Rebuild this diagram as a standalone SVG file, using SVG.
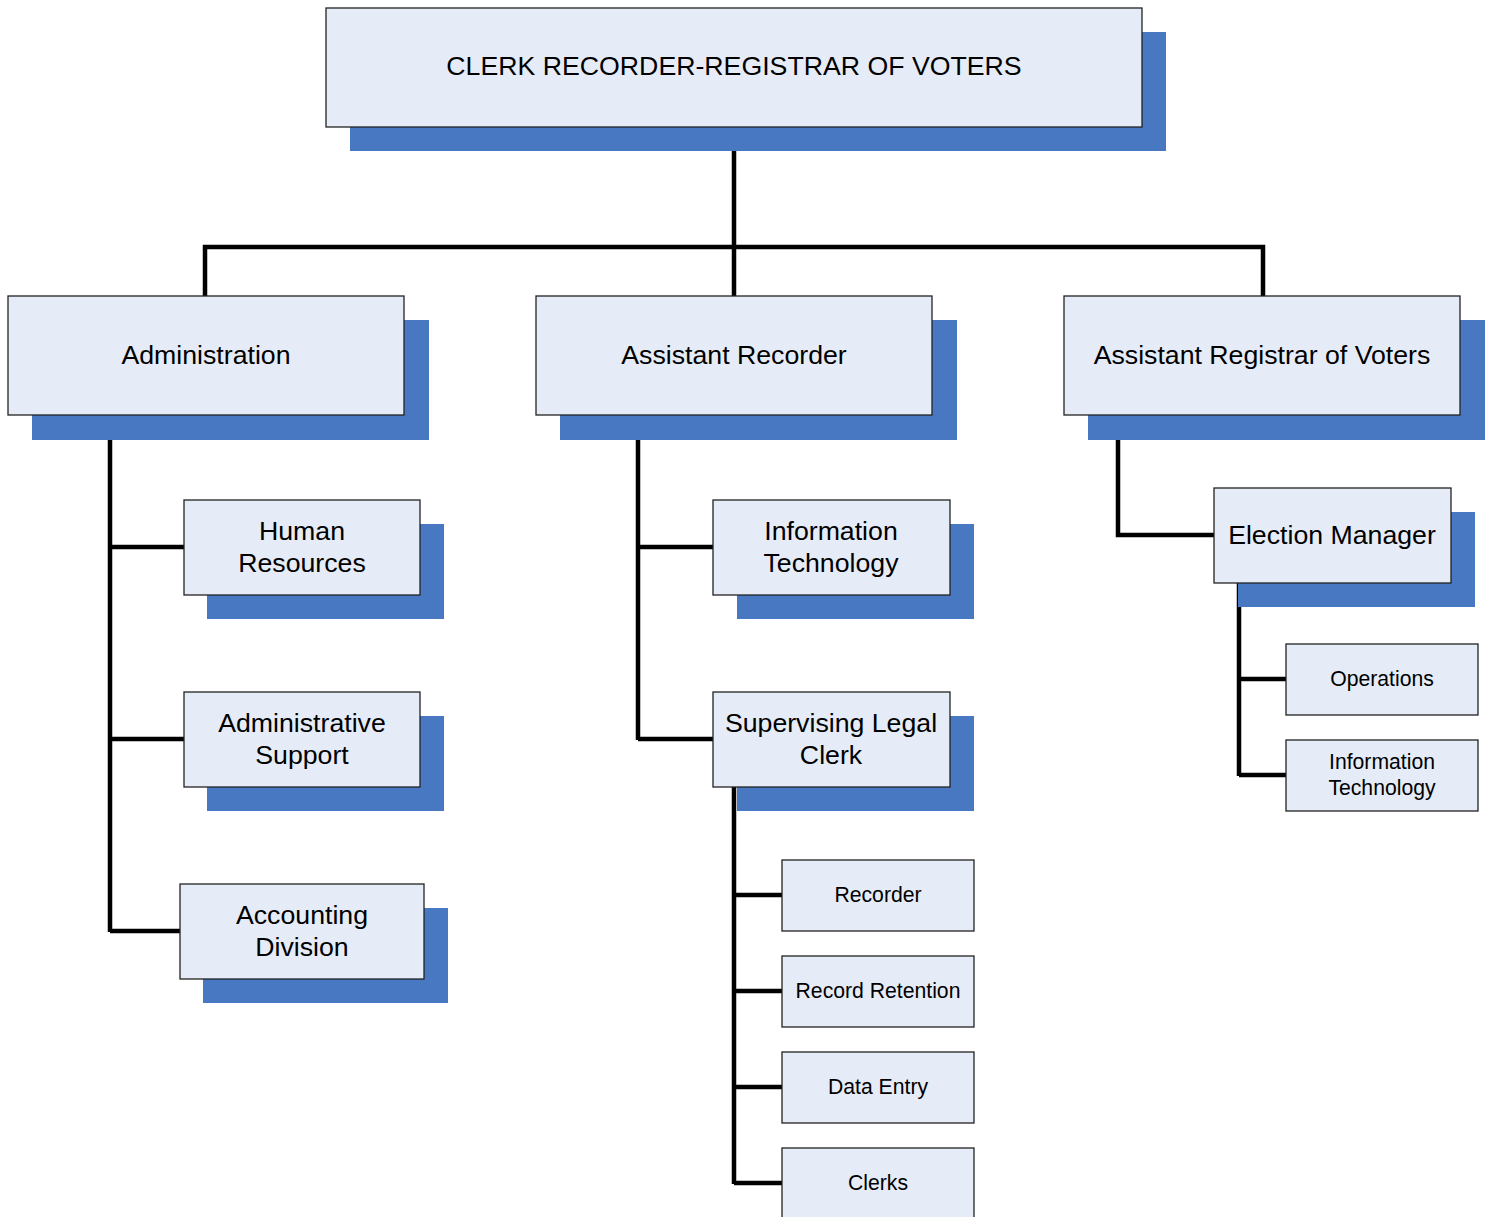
<svg xmlns="http://www.w3.org/2000/svg" width="1489" height="1217" viewBox="0 0 1489 1217">
<style>
.sh{fill:#4778C1}
.bx{fill:#E6ECF7;stroke:#222;stroke-width:1.3}
.t{font-family:"Liberation Sans",Arial,sans-serif;font-size:26.7px;fill:#000;text-anchor:middle}
.s{font-family:"Liberation Sans",Arial,sans-serif;font-size:21.2px;fill:#000;text-anchor:middle}
.c{fill:none;stroke:#000;stroke-width:4.5}
</style>
<rect width="1489" height="1217" fill="#fff"/>
<g id="connectors">
<path class="c" d="M734 151V296M205 296V247H1263V296"/>
<path class="c" d="M110 440V932M110 547H184M110 739H184M110 931H180"/>
<path class="c" d="M638 440V740M638 547H713M638 739H713"/>
<path class="c" d="M1118 440V535H1214"/>
<path class="c" d="M1239 583V776M1239 679H1286M1239 775H1286"/>
<path class="c" d="M734 787V1184M734 895H782M734 991H782M734 1087H782M734 1183H782"/>
</g>
<g id="n-top"><rect class="sh" x="350" y="32" width="816" height="119"/><rect class="bx" x="326" y="8" width="816" height="119"/><text class="t" x="734" y="75">CLERK RECORDER-REGISTRAR OF VOTERS</text></g>
<g id="n-admin"><rect class="sh" x="32" y="320" width="397" height="120"/><rect class="bx" x="8" y="296" width="396" height="119"/><text class="t" x="206" y="364">Administration</text></g>
<g id="n-asstrec"><rect class="sh" x="560" y="320" width="397" height="120"/><rect class="bx" x="536" y="296" width="396" height="119"/><text class="t" x="734" y="364">Assistant Recorder</text></g>
<g id="n-asstreg"><rect class="sh" x="1088" y="320" width="397" height="120"/><rect class="bx" x="1064" y="296" width="396" height="119"/><text class="t" x="1262" y="364">Assistant Registrar of Voters</text></g>
<g id="n-hr"><rect class="sh" x="207" y="524" width="237" height="95"/><rect class="bx" x="184" y="500" width="236" height="95"/><text class="t" x="302" y="540">Human</text><text class="t" x="302" y="572">Resources</text></g>
<g id="n-as"><rect class="sh" x="207" y="716" width="237" height="95"/><rect class="bx" x="184" y="692" width="236" height="95"/><text class="t" x="302" y="732">Administrative</text><text class="t" x="302" y="764">Support</text></g>
<g id="n-acct"><rect class="sh" x="203" y="908" width="245" height="95"/><rect class="bx" x="180" y="884" width="244" height="95"/><text class="t" x="302" y="924">Accounting</text><text class="t" x="302" y="956">Division</text></g>
<g id="n-it"><rect class="sh" x="737" y="524" width="237" height="95"/><rect class="bx" x="713" y="500" width="237" height="95"/><text class="t" x="831" y="540">Information</text><text class="t" x="831" y="572">Technology</text></g>
<g id="n-slc"><rect class="sh" x="737" y="716" width="237" height="95"/><rect class="bx" x="713" y="692" width="237" height="95"/><text class="t" x="831" y="732">Supervising Legal</text><text class="t" x="831" y="764">Clerk</text></g>
<g id="n-em"><rect class="sh" x="1238" y="512" width="237" height="95"/><rect class="bx" x="1214" y="488" width="237" height="95"/><text class="t" x="1332" y="544">Election Manager</text></g>
<g id="n-ops"><rect class="bx" x="1286" y="644" width="192" height="71"/><text class="s" x="1382" y="686">Operations</text></g>
<g id="n-it2"><rect class="bx" x="1286" y="740" width="192" height="71"/><text class="s" x="1382" y="769">Information</text><text class="s" x="1382" y="795">Technology</text></g>
<g id="n-rec"><rect class="bx" x="782" y="860" width="192" height="71"/><text class="s" x="878" y="902">Recorder</text></g>
<g id="n-rr"><rect class="bx" x="782" y="956" width="192" height="71"/><text class="s" x="878" y="998">Record Retention</text></g>
<g id="n-de"><rect class="bx" x="782" y="1052" width="192" height="71"/><text class="s" x="878" y="1094">Data Entry</text></g>
<g id="n-cl"><rect class="bx" x="782" y="1148" width="192" height="71"/><text class="s" x="878" y="1190">Clerks</text></g>
</svg>
